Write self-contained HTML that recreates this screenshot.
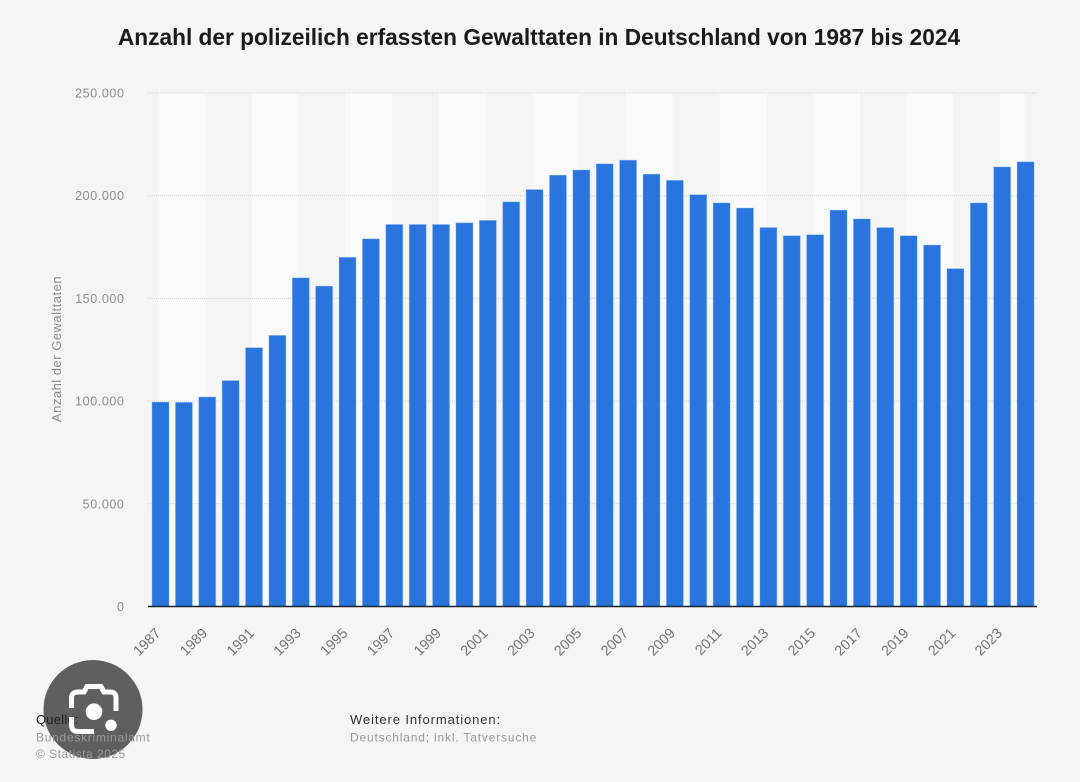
<!DOCTYPE html>
<html lang="de">
<head>
<meta charset="utf-8">
<title>Gewalttaten in Deutschland</title>
<style>
html,body{margin:0;padding:0;background:#f5f5f5;}
body{width:1080px;height:782px;overflow:hidden;position:relative;font-family:"Liberation Sans",sans-serif;}
svg{position:absolute;left:0;top:0;}
</style>
</head>
<body>
<svg id="chart" width="1080" height="782" viewBox="0 0 1080 782" xmlns="http://www.w3.org/2000/svg">
  <rect x="0" y="0" width="1080" height="782" fill="#f5f5f5"></rect>
  <text x="539" y="45" text-anchor="middle" font-size="22.7" font-weight="700" fill="#1b1b1b">Anzahl der polizeilich erfassten Gewalttaten in Deutschland von 1987 bis 2024</text>
  <g id="bands"></g>
  <g id="grid"></g>
  <g id="bars"></g>
  <g id="yticks"></g>
  <g id="xticks"></g>
  <text transform="translate(61,349) rotate(-90)" text-anchor="middle" font-size="13" letter-spacing="0.5" fill="#8e8e8e">Anzahl der Gewalttaten</text>
  <circle cx="93" cy="709.5" r="49.5" fill="#5f5f5f"></circle>
  <text x="36" y="724" font-size="13" fill="#222222" letter-spacing="0.2">Quelle:</text>
  <text x="36" y="741.5" font-size="12" fill="#999999" letter-spacing="0.73">Bundeskriminalamt</text>
  <text x="36" y="758" font-size="12" fill="#999999" letter-spacing="0.5">© Statista 2025</text>
  <text x="350" y="724" font-size="13" fill="#333333" letter-spacing="0.9">Weitere Informationen:</text>
  <text x="350" y="741.5" font-size="12" fill="#999999" letter-spacing="0.82">Deutschland; inkl. Tatversuche</text>
  <g>
    <path d="M71.5 708 V698 Q71.5 692 78 692 H84 L87 686.5 H101 L104 692 H110 Q116 692 116 698 V711" fill="none" stroke="#ffffff" stroke-width="5"></path>
    <path d="M71.5 717 V725 Q71.5 731.5 78 731.5 H94" fill="none" stroke="#ffffff" stroke-width="5"></path>
    <circle cx="94" cy="711.7" r="8.3" fill="#ffffff"></circle>
    <circle cx="111" cy="725.3" r="5.7" fill="#ffffff"></circle>
  </g>
</svg>
<script>
const years = [1987,1988,1989,1990,1991,1992,1993,1994,1995,1996,1997,1998,1999,2000,2001,2002,2003,2004,2005,2006,2007,2008,2009,2010,2011,2012,2013,2014,2015,2016,2017,2018,2019,2020,2021,2022,2023,2024];
const cases = [99500,99400,102000,110000,126000,132000,160000,156000,170000,179000,186000,186000,186000,186800,188000,197000,203000,210000,212500,215500,217300,210500,207500,200500,196500,194000,184500,180500,181000,193000,188700,184500,180500,176000,164500,196500,214000,216500];
const yTickValues = [0,50000,100000,150000,200000,250000];
const yTickLabels = ['0','50.000','100.000','150.000','200.000','250.000'];

const NS = 'http://www.w3.org/2000/svg';
const plotLeft = 148, plotRight = 1037, baseY = 606.5, topY = 93;
const firstCenter = 160.5, pitch = 23.38, barWidth = 17;
function xScale(i){ return firstCenter + i * pitch; }
function yScale(v){ return baseY - (v / 250000) * (baseY - topY); }
function make(tag, attrs, parent){
  const el = document.createElementNS(NS, tag);
  for (const k in attrs) el.setAttribute(k, attrs[k]);
  parent.appendChild(el);
  return el;
}
const bandsG = document.getElementById('bands');
const gridG = document.getElementById('grid');
const barsG = document.getElementById('bars');
const yG = document.getElementById('yticks');
const xG = document.getElementById('xticks');

for (let i = 0; i < years.length; i += 4) {
  const x0 = xScale(i) - 2;
  const x1 = Math.min(xScale(i + 2) - 2, xScale(years.length - 1));
  const band = make('rect', {x:x0, y:topY, width:x1 - x0, height:baseY - topY, fill:'#fafafa'}, bandsG);
  
  
}
yTickValues.forEach(function(v, i){
  const y = yScale(v);
  if (v > 0) {
    const line = make('line', {x1:plotLeft, x2:plotRight, y1:y, y2:y, stroke:'#d4d4d4', 'stroke-width':1, 'stroke-dasharray':'1 1'}, gridG);
    
    
  }
  const t = make('text', {x:124.5, y:y + 4.5, 'text-anchor':'end', 'font-size':12.5, fill:'#8e8e8e', 'letter-spacing':0.6}, yG);
  t.textContent = yTickLabels[i];
  
  
});
cases.forEach(function(v, i){
  const y = yScale(v);
  const bar = make('rect', {x:xScale(i) - barWidth / 2, y:y, width:barWidth, height:baseY - y, fill:'#2a74de', stroke:'#8fbcf3', 'stroke-opacity':0.45, 'stroke-width':0.8}, barsG);
  
  
});
const axis = make('line', {x1:plotLeft, x2:plotRight, y1:baseY, y2:baseY, stroke:'#1c2430', 'stroke-width':1.6}, barsG);


years.forEach(function(yr, i){
  if (i % 2 !== 0) return;
  const x = xScale(i) + 1;
  const t = make('text', {transform:'translate(' + x + ',634) rotate(-45)', 'text-anchor':'end', 'font-size':14.3, fill:'#777777'}, xG);
  t.textContent = String(yr);
  
  
});
</script>
</body>
</html>
